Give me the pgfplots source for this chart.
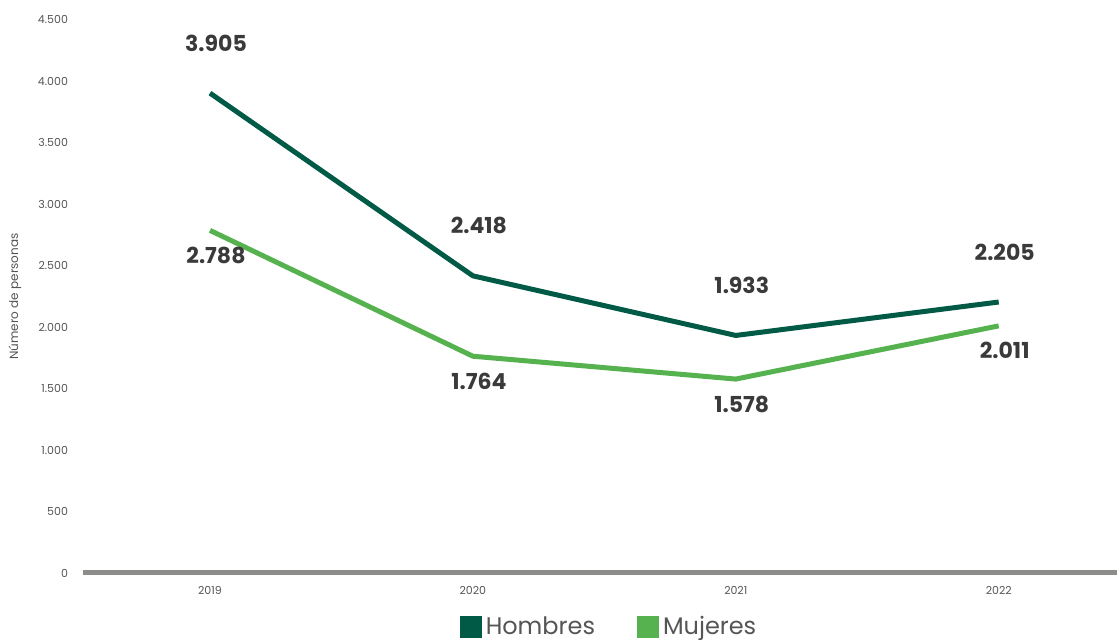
\documentclass[border=0pt]{standalone}
\usepackage{pgfplots}
\pgfplotsset{compat=1.18}
\usepackage{fontspec}
\setmainfont{Poppins}
\definecolor{hom}{RGB}{0,90,70}
\definecolor{muj}{RGB}{86,178,78}
\definecolor{axgray}{RGB}{140,140,138}
\definecolor{tickgray}{RGB}{85,85,85}
\definecolor{lblgray}{RGB}{58,58,58}
\begin{document}
\begin{tikzpicture}
\useasboundingbox (-41.5pt,-33.5pt) rectangle (517pt,286.5pt);
\begin{axis}[
  at={(0,0)}, anchor=south west,
  scale only axis, width=517pt, height=276.5pt,
  xmin=-0.483, xmax=3.45, ymin=0, ymax=4500,
  xtick={0,1,2,3}, xticklabels={2019,2020,2021,2022},
  ytick={0,500,...,4500},
  axis line style={draw=none},
  major tick length=0pt,
  /pgf/number format/.cd, 1000 sep={.}, assume math mode=true, /pgfplots/.cd,
  tick label style={font=\fontsize{5.5}{6}\selectfont, text=tickgray},
  xticklabel style={yshift=-3pt},
  yticklabel style={xshift=-4pt},
  ylabel={Número de personas},
  every axis y label/.style={at={(rel axis cs:0,0.5)}, xshift=-34pt, rotate=90, anchor=center,
     font=\fontsize{6}{7}\selectfont, text=tickgray},
  clip=false,
  nodes near coords={\pgfplotspointmeta},
  point meta=explicit symbolic,
  every node near coord/.append style={font=\bfseries\fontsize{11}{12}\selectfont, text=lblgray, anchor=center},
  legend style={at={(0.5,0)}, anchor=north, yshift=-17.5pt, xshift=5pt, draw=none, fill=none,
     legend columns=2, font=\fontsize{12}{13}\selectfont, text=tickgray,
     /tikz/every even column/.append style={column sep=19pt}},
  legend image code/.code={\fill[#1, draw=none] (0pt,-5.5pt) rectangle (11pt,5.5pt);},
]
\draw[axgray, line width=2.5pt] (rel axis cs:0,0) -- (rel axis cs:1,0);
\addplot[hom, line width=2.5pt, mark=none,
  every node near coord/.append style={yshift=25pt, xshift=3pt}]
  table[meta=lab] {
x y lab
0 3905 3.905
1 2418 2.418
2 1933 1.933
3 2205 2.205
};
\addlegendentry{Hombres}
\addplot[muj, line width=2.5pt, mark=none,
  every node near coord/.append style={yshift=-12.5pt, xshift=3pt}]
  table[meta=lab] {
x y lab
0 2788 2.788
1 1764 1.764
2 1578 1.578
3 2011 2.011
};
\addlegendentry{Mujeres}
\end{axis}
\end{tikzpicture}
\end{document}
